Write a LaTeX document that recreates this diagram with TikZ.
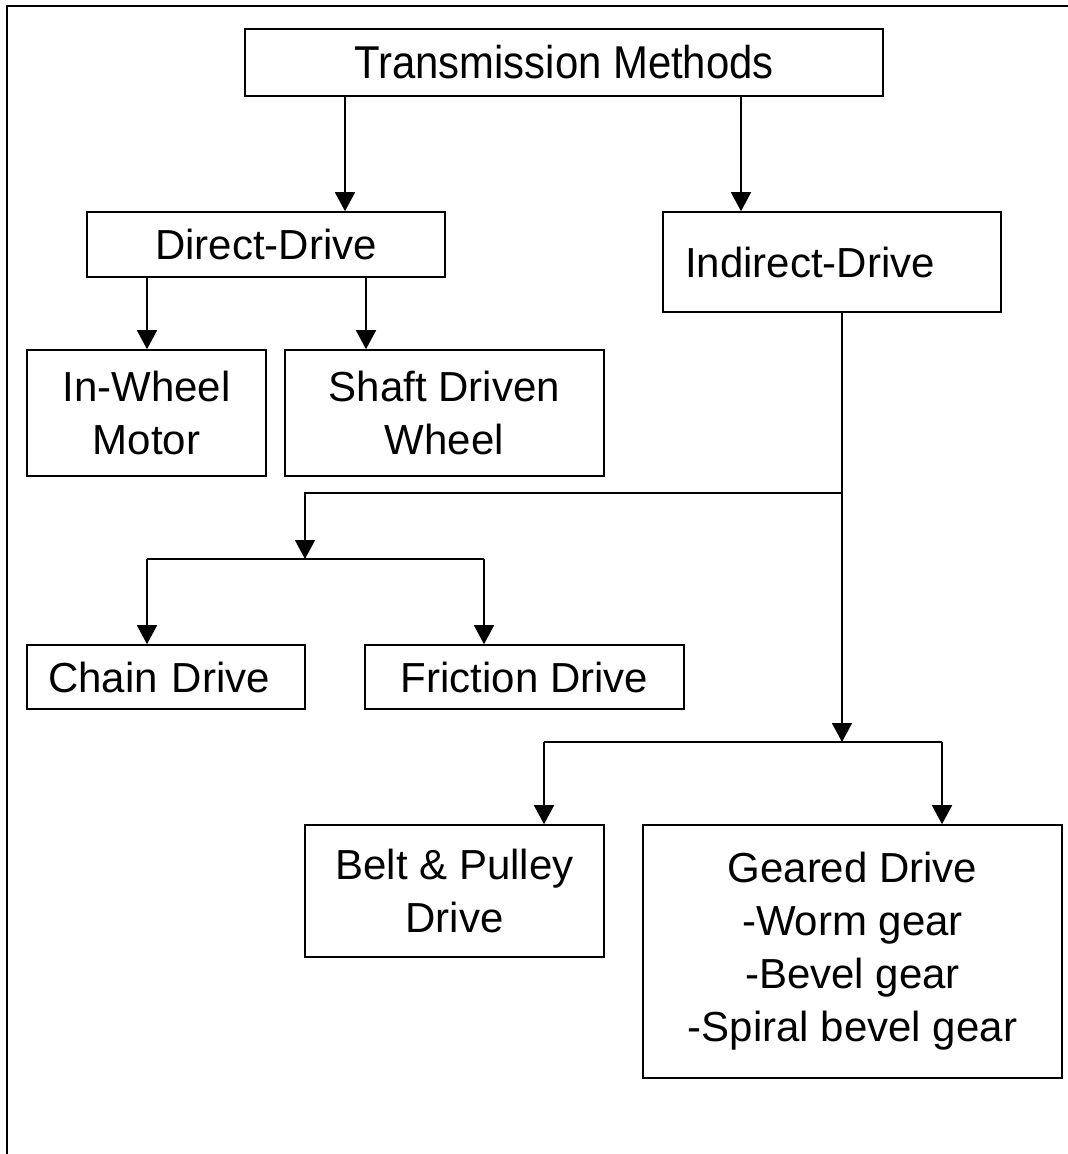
\documentclass[tikz,border=0pt]{standalone}
\usepackage{fontspec}
\setmainfont{Liberation Sans}
\newfontfamily\narrowsans[FakeStretch=0.91]{Liberation Sans}
\usetikzlibrary{arrows.meta}

\tikzset{
  box/.style={draw, line width=1.6pt, rectangle, inner sep=0pt,
    font=\fontsize{42}{53}\selectfont, align=center},
  headbox/.style={box, font=\narrowsans\fontsize{46}{53}\selectfont},
  link/.style={line width=1.6pt},
  arr/.style={link, -{Triangle[width=20pt,length=19pt]}},
  frame/.style={line width=2.8pt}
}

\begin{document}
\begin{tikzpicture}[x=1pt, y=-1pt]
\useasboundingbox (0,0) rectangle (1068,1154);

% outer frame (left and top edges)
\draw[frame] (7,1154) -- (7,6) -- (1068,6);

% boxes
\node[headbox, minimum width=638pt, minimum height=67pt] (tm) at (564,62.5) {Transmission Methods};
\node[box, minimum width=358pt, minimum height=65pt] (dd) at (266,244.5) {Direct-Drive};
\node[box, minimum height=100pt, text width=294pt, inner xsep=22pt, align=left] (id) at (832,262) {Indirect-Drive};
\node[box, minimum width=239pt, minimum height=126pt] (iw) at (146.5,413) {In-Wheel\\Motor};
\node[box, minimum width=319pt, minimum height=126pt] (sd) at (444.5,413) {Shaft Driven\\Wheel};
\node[box, minimum height=64pt, text width=236pt, inner xsep=21pt, align=left] (cd) at (166,677) {Chain Drive};
\node[box, minimum width=319pt, minimum height=64pt] (fd) at (524.5,677) {Friction Drive};
\node[box, minimum width=299pt, minimum height=132pt] (bp) at (454.5,891) {Belt \& Pulley\\Drive};
\node[box, minimum width=419pt, minimum height=253pt] (gd) at (852.5,951.5) {Geared Drive\\-Worm gear\\-Bevel gear\\-Spiral bevel gear};

% junction points
\coordinate (t1) at (842,493);
\coordinate (s1) at (305,559);
\coordinate (s2) at (842,742);

% top level
\draw[arr] (tm.south -| 345,0) -- (dd.north -| 345,0);
\draw[arr] (tm.south -| 741,0) -- (id.north -| 741,0);

% direct drive branches
\draw[arr] (dd.south -| 147,0) -- (iw.north -| 147,0);
\draw[arr] (dd.south -| 366,0) -- (sd.north -| 366,0);

% indirect drive trunk
\draw[arr] (id.south -| t1) -- (s2);
\draw[arr] (t1) -- (t1 -| s1) -- (s1);

% chain / friction split
\draw[link] (s1 -| 147,0) -- (s1 -| 484,0);
\draw[arr] (s1 -| 147,0) -- (cd.north -| 147,0);
\draw[arr] (s1 -| 484,0) -- (fd.north -| 484,0);

% belt / geared split
\draw[link] (s2 -| 544,0) -- (s2 -| 942,0);
\draw[arr] (s2 -| 544,0) -- (bp.north -| 544,0);
\draw[arr] (s2 -| 942,0) -- (gd.north -| 942,0);
\end{tikzpicture}
\end{document}
